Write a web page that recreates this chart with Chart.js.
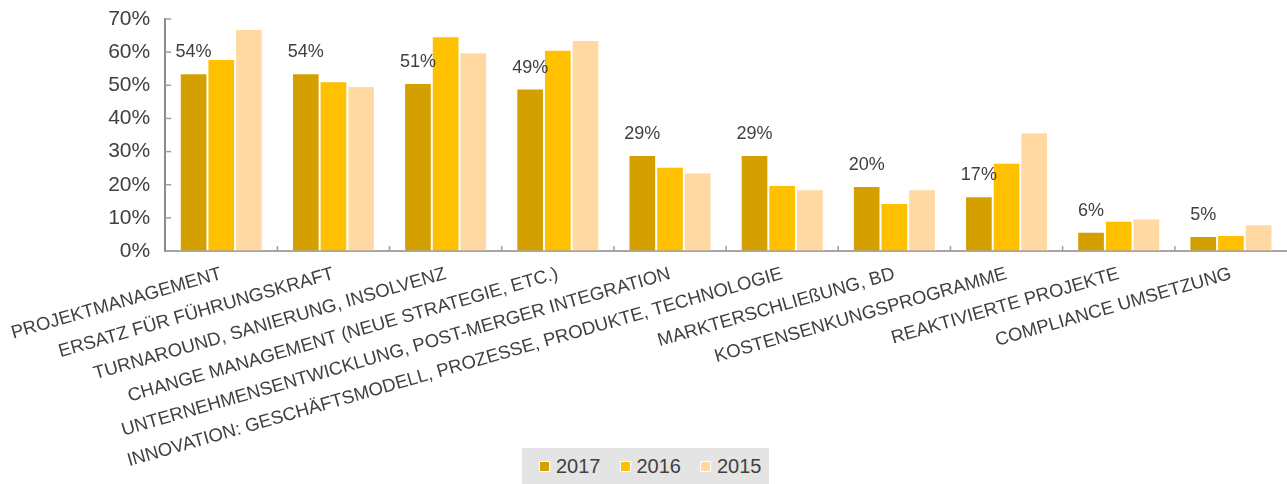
<!DOCTYPE html>
<html>
<head>
<meta charset="utf-8">
<script src="https://cdn.jsdelivr.net/npm/chart.js@4"></script>
<style>
  html, body { margin: 0; padding: 0; background: #fff; }
  #wrap { width: 1287px; height: 484px; position: relative; }
  #legend {
    position: absolute; left: 522px; top: 448px; width: 247px; height: 36px;
    background: #e4e4e4; display: flex; align-items: center; box-sizing: border-box;
    padding-left: 17px;
    font-family: "Liberation Sans", Arial, Helvetica, sans-serif; font-size: 20px; color: #404040;
  }
  #legend .item { display: flex; align-items: center; margin-right: 19px; }
  #legend .box { width: 11px; height: 11px; border: 1px solid #fff; box-sizing: border-box; margin-right: 6px; }
</style>
</head>
<body>
<div id="wrap"><canvas id="chart"></canvas><div id="legend"></div></div>
<script>
const categories = [
    'PROJEKTMANAGEMENT',
    'ERSATZ FÜR FÜHRUNGSKRAFT',
    'TURNAROUND, SANIERUNG, INSOLVENZ',
    'CHANGE MANAGEMENT (NEUE STRATEGIE, ETC.)',
    'UNTERNEHMENSENTWICKLUNG, POST-MERGER INTEGRATION',
    'INNOVATION: GESCHÄFTSMODELL, PROZESSE, PRODUKTE, TECHNOLOGIE',
    'MARKTERSCHLIEßUNG, BD',
    'KOSTENSENKUNGSPROGRAMME',
    'REAKTIVIERTE PROJEKTE',
    'COMPLIANCE UMSETZUNG'
];
const years = ['2017', '2016', '2015'];
const values2017 = [53.6, 53.6, 50.7, 49.0, 29.0, 29.0, 19.6, 16.5, 5.8, 4.5];
const values2016 = [57.9, 51.2, 64.8, 60.7, 25.4, 19.9, 14.5, 26.6, 9.1, 4.8];
const values2015 = [67.0, 49.8, 60.0, 63.7, 23.7, 18.6, 18.6, 35.8, 9.8, 8.1];
const yTicks = [0, 10, 20, 30, 40, 50, 60, 70];

const colors = ['#D4A000', '#FFC000', '#FFD9A1'];
const textColor = '#404040';

Chart.defaults.font.family = '"Liberation Sans", Arial, Helvetica, sans-serif';
Chart.defaults.color = textColor;

// value labels above the 2017 bars
const valueLabels = {
    id: 'valueLabels',
    afterDatasetsDraw(chart) {
        const ctx = chart.ctx;
        const meta = chart.getDatasetMeta(0);
        ctx.save();
        ctx.font = '18px ' + Chart.defaults.font.family;
        ctx.fillStyle = textColor;
        ctx.textAlign = 'center';
        ctx.textBaseline = 'middle';
        meta.data.forEach((bar, i) => {
            ctx.fillText(Math.round(values2017[i]) + '%', bar.x, bar.y - 21);
        });
        ctx.restore();
    }
};

// small inside tick marks on both axes
const innerTicks = {
    id: 'innerTicks',
    afterDraw(chart) {
        const { ctx, chartArea, scales } = chart;
        ctx.save();
        ctx.strokeStyle = '#a0a0a0';
        ctx.lineWidth = 1.5;
        yTicks.forEach(v => {
            const y = scales.y.getPixelForValue(v);
            ctx.beginPath();
            ctx.moveTo(chartArea.left, y);
            ctx.lineTo(chartArea.left + 6, y);
            ctx.stroke();
        });
        for (let i = 1; i < categories.length; i++) {
            const x = (scales.x.getPixelForTick(i - 1) + scales.x.getPixelForTick(i)) / 2;
            ctx.beginPath();
            ctx.moveTo(x, chartArea.bottom);
            ctx.lineTo(x, chartArea.bottom - 5);
            ctx.stroke();
        }
        ctx.restore();
    }
};

const chart = new Chart(document.getElementById('chart'), {
    type: 'bar',
    data: {
        labels: categories,
        datasets: [values2017, values2016, values2015].map((vals, i) => ({
            label: years[i],
            data: vals,
            backgroundColor: colors[i],
            borderColor: '#ffffff',
            borderWidth: 1,
            borderSkipped: 'bottom',
            categoryPercentage: 0.74,
            barPercentage: 1.0
        }))
    },
    options: {
        responsive: true,
        maintainAspectRatio: false,
        animation: false,
        layout: { padding: 0 },
        plugins: {
            legend: { display: false },
            tooltip: { enabled: false }
        },
        scales: {
            x: {
                grid: { display: true, drawOnChartArea: false, drawTicks: false },
                border: { display: true, color: '#a6a6a6', width: 2 },
                ticks: {
                    autoSkip: false,
                    minRotation: 16,
                    maxRotation: 16,
                    padding: 12,
                    color: textColor,
                    font: { size: 18.5 }
                },
                afterFit(scale) {
                    scale.height = 233;
                    scale.paddingLeft = Math.max(scale.paddingLeft - 4, 0);
                }
            },
            y: {
                min: 0,
                max: 70,
                grid: { display: true, drawOnChartArea: false, drawTicks: false },
                border: { display: true, color: '#8c8c8c', width: 2 },
                ticks: {
                    stepSize: 10,
                    padding: 15,
                    color: textColor,
                    font: { size: 21 },
                    callback: v => v + '%'
                },
                afterFit(scale) { scale.paddingTop = 19; }
            }
        }
    },
    plugins: [valueLabels, innerTicks]
});

// html legend built from the datasets
document.getElementById('legend').innerHTML = chart.data.datasets.map(ds => `
    <div class="item"><span class="box" style="background:${ds.backgroundColor}"></span>${ds.label}</div>
`).join('');
</script>
</body>
</html>
